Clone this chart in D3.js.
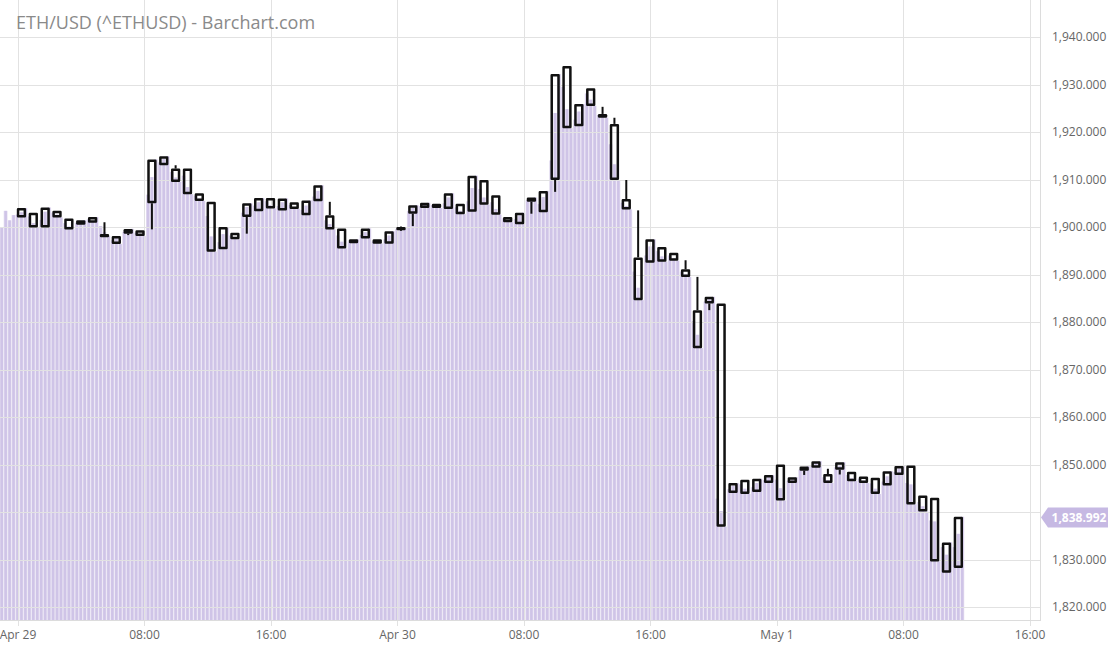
<!DOCTYPE html>
<html>
<head>
<meta charset="utf-8">
<script src="https://cdn.jsdelivr.net/npm/d3@7"></script>
<style>
  html, body { margin: 0; padding: 0; background: #fff; }
  svg { display: block; font-family: "Open Sans", sans-serif; }
</style>
</head>
<body>
<svg id="chart" width="1110" height="645"></svg>
<script>
// 45-minute candles, Apr 29 00:15 UTC onwards
const opens = [1902.0,1903.0,1899.9,1903.4,1901.8,1900.5,1900.9,1898.3,1898.1,1898.6,
  1899.3,1905.0,1913.0,1912.3,1912.3,1907.1,1905.3,1895.3,1898.8,1902.1,
  1903.3,1906.1,1903.5,1905.2,1902.5,1905.4,1902.5,1899.7,1896.6,1897.6,
  1897.4,1896.5,1899.4,1902.8,1904.0,1904.9,1903.8,1904.9,1903.2,1909.9,
  1906.7,1902.1,1900.6,1905.3,1903.1,1909.9,1933.9,1921.2,1929.2,1923.8,
  1921.7,1905.9,1893.6,1892.5,1895.8,1894.6,1891.1,1882.5,1883.9,1883.9,
  1844.0,1846.8,1844.2,1846.1,1850.0,1846.1,1848.7,1849.3,1848.0,1848.9,
  1848.5,1847.5,1847.2,1845.6,1847.8,1849.8,1843.5,1843.0,1827.2,1828.2];
const highs = [1904.0,1903.0,1904.1,1903.4,1901.8,1901.4,1902.1,1901.0,1898.1,1899.6,
  1899.3,1914.2,1914.9,1913.0,1912.3,1907.1,1905.3,1900.0,1898.8,1905.0,
  1906.1,1906.1,1906.0,1905.2,1905.6,1908.8,1905.3,1899.7,1897.4,1899.7,
  1897.4,1899.1,1900.1,1904.6,1905.1,1904.9,1907.1,1904.9,1910.8,1909.9,
  1906.7,1902.1,1903.0,1906.2,1907.6,1932.2,1933.9,1925.9,1929.2,1925.3,
  1923.0,1909.9,1903.5,1897.4,1895.8,1894.6,1893.0,1889.5,1885.3,1883.9,
  1846.1,1846.8,1847.0,1847.8,1850.0,1847.3,1849.6,1850.7,1849.1,1850.5,
  1848.5,1847.5,1847.2,1848.6,1849.7,1849.8,1843.5,1843.0,1833.6,1838.99];
const lows = [1902.0,1899.9,1899.9,1902.0,1899.5,1900.5,1900.9,1897.9,1896.4,1898.3,
  1898.1,1899.5,1913.0,1909.5,1906.9,1905.5,1894.8,1895.3,1897.4,1898.6,
  1903.3,1903.9,1903.5,1903.8,1902.5,1905.4,1899.5,1895.5,1896.6,1897.6,
  1896.5,1896.5,1899.2,1900.2,1904.0,1904.0,1903.8,1902.7,1903.2,1904.7,
  1902.6,1901.0,1900.6,1902.8,1903.1,1907.4,1920.8,1921.2,1925.5,1923.0,
  1909.9,1903.7,1884.6,1892.5,1892.7,1892.9,1889.5,1874.5,1882.5,1836.9,
  1844.0,1843.8,1844.2,1846.1,1842.4,1846.1,1847.8,1849.3,1846.1,1847.9,
  1846.5,1846.1,1843.8,1845.6,1847.8,1841.6,1840.1,1829.6,1827.2,1828.2];
const closes = [1904.0,1899.9,1904.1,1902.0,1899.5,1901.4,1902.1,1898.1,1896.4,1899.6,
  1898.1,1914.2,1914.9,1909.5,1906.9,1905.5,1894.8,1900.0,1897.4,1905.0,
  1906.1,1903.9,1906.0,1903.8,1905.6,1908.8,1899.5,1895.5,1897.4,1899.7,
  1896.5,1899.1,1899.9,1904.6,1905.1,1904.0,1907.1,1902.7,1910.8,1904.7,
  1902.6,1901.0,1903.0,1906.2,1907.6,1932.2,1920.8,1925.9,1925.5,1923.0,
  1909.9,1903.7,1884.6,1897.4,1892.7,1892.9,1889.5,1874.5,1885.3,1836.9,
  1846.1,1843.8,1847.0,1847.8,1842.4,1847.3,1849.6,1850.7,1846.1,1850.5,
  1846.5,1846.1,1843.8,1848.6,1849.7,1841.6,1840.1,1829.6,1833.6,1838.99];

// 15-minute closes for the background mountain, Apr 28 23:00 UTC onwards
const mountainCloses = [1900.0,1903.4,1901.4,1902.5,
  1902.6,1903.1,1904.0, 1902.2,1900.8,1899.9, 1901.5,1903.2,1904.1, 1903.0,1902.6,1902.0,
  1900.8,1900.1,1899.5, 1900.9,1900.7,1901.4, 1901.6,1901.2,1902.1, 1900.2,1898.9,1898.1,
  1897.2,1897.8,1896.4, 1899.0,1899.3,1899.6, 1898.8,1898.4,1898.1, 1906.8,1910.5,1914.2,
  1913.6,1914.3,1914.9, 1911.6,1910.4,1909.5, 1910.8,1908.4,1906.9, 1906.6,1906.0,1905.5,
  1902.3,1898.0,1894.8, 1896.8,1898.5,1900.0, 1898.2,1897.9,1897.4, 1903.0,1904.2,1905.0,
  1904.5,1905.2,1906.1, 1905.4,1904.6,1903.9, 1904.4,1905.2,1906.0, 1904.6,1904.2,1903.8,
  1903.6,1904.5,1905.6, 1906.4,1907.6,1908.8, 1901.4,1900.6,1899.5, 1898.2,1896.9,1895.5,
  1896.9,1897.1,1897.4, 1898.3,1898.9,1899.7, 1897.0,1896.8,1896.5, 1897.4,1898.2,1899.1,
  1899.6,1899.8,1899.9, 1903.4,1904.0,1904.6, 1904.4,1904.8,1905.1, 1904.6,1904.3,1904.0,
  1905.0,1906.2,1907.1, 1904.1,1903.4,1902.7, 1905.4,1908.2,1910.8, 1908.0,1906.2,1904.7,
  1905.2,1903.8,1902.6, 1901.8,1901.4,1901.0, 1901.7,1902.4,1903.0, 1905.6,1905.9,1906.2,
  1904.8,1906.3,1907.6, 1914.0,1924.0,1932.2, 1929.5,1924.8,1920.8, 1922.6,1924.3,1925.9,
  1928.1,1926.8,1925.5, 1923.6,1923.3,1923.0, 1917.4,1913.2,1909.9, 1905.1,1904.4,1903.7,
  1890.6,1887.2,1884.6, 1894.0,1895.9,1897.4, 1894.9,1893.8,1892.7, 1894.0,1893.4,1892.9,
  1890.6,1890.0,1889.5, 1880.2,1877.3,1874.5, 1884.3,1884.8,1885.3, 1842.8,1840.2,1836.9,
  1844.8,1845.5,1846.1, 1845.8,1844.9,1843.8, 1845.2,1846.1,1847.0, 1846.7,1847.3,1847.8,
  1846.8,1845.0,1842.4, 1846.6,1846.9,1847.3, 1848.9,1849.2,1849.6, 1849.9,1850.3,1850.7,
  1847.3,1846.7,1846.1, 1849.4,1850.0,1850.5, 1847.8,1847.1,1846.5, 1847.0,1846.6,1846.1,
  1846.0,1844.9,1843.8, 1846.4,1847.5,1848.6, 1848.4,1849.1,1849.7, 1846.1,1845.8,1841.6,
  1842.1,1841.2,1840.1, 1838.2,1838.0,1829.6, 1832.6,1831.0,1833.6, 1832.6,1835.4,1838.992];

const yTicks = [1820, 1830, 1840, 1850, 1860, 1870, 1880, 1890, 1900, 1910, 1920, 1930, 1940];
// 1,840 sits under the last-price tag, so it gets a gridline but no label
const yLabelTicks = [1820, 1830, 1850, 1860, 1870, 1880, 1890, 1900, 1910, 1920, 1930, 1940];
const xTickLabels = ['Apr 29', '08:00', '16:00', 'Apr 30', '08:00', '16:00', 'May 1', '08:00', '16:00'];

const title = 'ETH/USD (^ETHUSD) - Barchart.com';

const svg = d3.select('#chart');
const plotRight = 1040, plotBottom = 620;

const HOUR = 3600 * 1000;
const t0 = Date.UTC(2023, 3, 29, 0, 0);
const x = d3.scaleUtc()
  .domain([new Date(t0), new Date(t0 + 64 * HOUR)])
  .range([17.5, 1029.5]);
const y = d3.scaleLinear().domain([1820, 1940]).range([607, 37]);

const candles = opens.map((o, i) => ({
  t: new Date(t0 + 15 * 60 * 1000 + i * 45 * 60 * 1000),
  o, h: highs[i], l: lows[i], c: closes[i]
}));
const mountain = mountainCloses.map((v, k) => ({
  t: new Date(t0 - HOUR + k * 15 * 60 * 1000), v
}));

svg.append('defs').append('clipPath').attr('id', 'plotClip')
  .append('rect').attr('x', 0).attr('y', 0).attr('width', plotRight).attr('height', plotBottom);

// mountain bars (15 min closes)
const step = x(new Date(t0 + 15 * 60 * 1000)) - x(new Date(t0));
const mg = svg.append('g').attr('clip-path', 'url(#plotClip)');
mg.selectAll('rect.bg').data(mountain).enter().append('rect')
  .attr('class', 'bg')
  .attr('x', d => x(d.t) - step / 2)
  .attr('width', step)
  .attr('y', d => y(d.v))
  .attr('height', d => plotBottom - y(d.v))
  .attr('fill', '#e8e2f3');
mg.selectAll('rect.fg').data(mountain).enter().append('rect')
  .attr('class', 'fg')
  .attr('x', d => x(d.t) - 1.3)
  .attr('width', 2.6)
  .attr('y', d => y(d.v))
  .attr('height', d => plotBottom - y(d.v))
  .attr('fill', '#cfc4e7');

// grid
const xTickDates = d3.range(0, 9).map(i => new Date(t0 + i * 8 * HOUR));
const grid = svg.append('g');
grid.selectAll('line.h').data(yTicks).enter().append('line')
  .attr('x1', 0).attr('x2', plotRight)
  .attr('y1', d => Math.round(y(d)) + 0.5).attr('y2', d => Math.round(y(d)) + 0.5)
  .attr('stroke', '#e2e2e2');
grid.selectAll('line.v').data(xTickDates).enter().append('line')
  .attr('y1', 0).attr('y2', plotBottom + 6)
  .attr('x1', d => Math.round(x(d)) + 0.5).attr('x2', d => Math.round(x(d)) + 0.5)
  .attr('stroke', '#e2e2e2');

// axes
svg.append('line').attr('x1', 0).attr('x2', plotRight)
  .attr('y1', plotBottom + 0.5).attr('y2', plotBottom + 0.5).attr('stroke', '#dcdcdc');
svg.append('line').attr('x1', plotRight + 0.5).attr('x2', plotRight + 0.5)
  .attr('y1', 0).attr('y2', plotBottom + 1).attr('stroke', '#dcdcdc');

const xAxis = d3.axisBottom(x).tickValues(xTickDates)
  .tickFormat((d, i) => xTickLabels[i]).tickSize(0).tickPadding(0);
const xg = svg.append('g').attr('transform', `translate(0,${plotBottom})`).call(xAxis);
xg.select('.domain').remove();
xg.selectAll('text').attr('y', 19).attr('dy', 0)
  .attr('fill', '#666').style('font-size', '12px').style('font-family', '"Open Sans", sans-serif');

const yAxis = d3.axisRight(y).tickValues(yLabelTicks)
  .tickFormat(d3.format(',.3f')).tickSize(0).tickPadding(0);
const yg = svg.append('g').attr('transform', `translate(1052,0)`).call(yAxis);
yg.select('.domain').remove();
yg.selectAll('text').attr('fill', '#666')
  .style('font-size', '12px').style('font-family', '"Open Sans", sans-serif');

// candles: hollow bodies, wicks only outside the body
const cg = svg.append('g').attr('clip-path', 'url(#plotClip)');
const sw = 2.5;
candles.forEach(d => {
  const cx = x(d.t);
  const top = y(Math.max(d.o, d.c)), bot = y(Math.min(d.o, d.c));
  if (y(d.h) < top - 0.5) cg.append('line')
    .attr('x1', cx).attr('x2', cx).attr('y1', y(d.h)).attr('y2', top)
    .attr('stroke', '#111').attr('stroke-width', 2);
  if (y(d.l) > bot + 0.5) cg.append('line')
    .attr('x1', cx).attr('x2', cx).attr('y1', bot).attr('y2', y(d.l))
    .attr('stroke', '#111').attr('stroke-width', 2);
});
cg.selectAll('rect.body').data(candles).enter().append('rect')
  .attr('class', 'body')
  .attr('x', d => x(d.t) - 3.4)
  .attr('width', 6.8)
  .attr('y', d => {
    const top = y(Math.max(d.o, d.c)) + sw / 2, bot = y(Math.min(d.o, d.c)) - sw / 2;
    return bot - top < 0.8 ? (top + bot) / 2 - 0.4 : top;
  })
  .attr('height', d => {
    const top = y(Math.max(d.o, d.c)) + sw / 2, bot = y(Math.min(d.o, d.c)) - sw / 2;
    return Math.max(0.8, bot - top);
  })
  .attr('fill', 'none')
  .attr('stroke', '#111')
  .attr('stroke-linejoin', 'round')
  .attr('stroke-width', sw);

// title
svg.append('text')
  .attr('x', 16).attr('y', 29)
  .attr('fill', '#8a8a8a')
  .style('font-size', '18px')
  .text(title);

// last price tag
const last = mountainCloses[mountainCloses.length - 1];
const ly = Math.round(y(last)) + 0.5;
svg.append('path')
  .attr('d', `M${plotRight + 1},${ly} L${plotRight + 8},${ly - 10} L1108,${ly - 10} L1108,${ly + 10} L${plotRight + 8},${ly + 10} Z`)
  .attr('fill', '#c6b9e3');
svg.append('text')
  .attr('x', 1079).attr('y', ly).attr('dy', '0.35em')
  .attr('text-anchor', 'middle')
  .attr('fill', '#fff')
  .style('font-size', '12px').style('font-weight', 'bold')
  .text(d3.format(',.3f')(last));
</script>
</body>
</html>
